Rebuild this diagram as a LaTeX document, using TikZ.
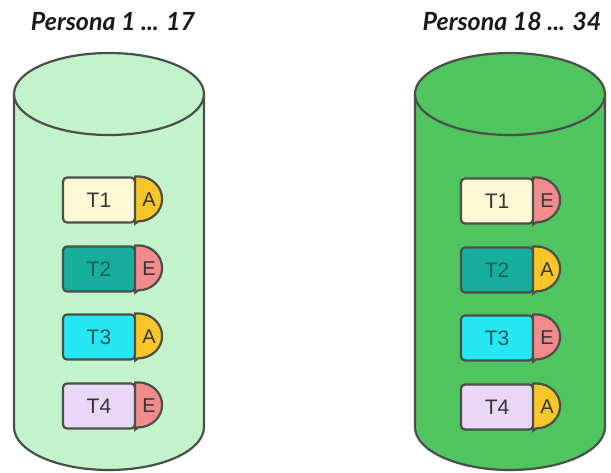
\documentclass[tikz,border=0pt]{standalone}
\usepackage{fontspec}
\setmainfont{Liberation Sans}
\newfontfamily\titlefont{Lato}
\definecolor{edge}{HTML}{4A4F4A}
\definecolor{cylA}{HTML}{C2F3CB}
\definecolor{cylB}{HTML}{50C45E}
\definecolor{fillT1}{HTML}{FFF8D4}
\definecolor{fillT2}{HTML}{17AE9C}
\definecolor{fillT3}{HTML}{26E6F2}
\definecolor{fillT4}{HTML}{EAD6F6}
\definecolor{fillA}{HTML}{F7C62A}
\definecolor{fillE}{HTML}{F28C8C}
\definecolor{ink}{HTML}{353535}
\definecolor{inkTeal}{HTML}{1D5C62}
\tikzset{
  outline/.style={draw=edge, line width=2.2pt},
  tagbox/.style={outline, rounded corners=4pt, minimum width=72pt, minimum height=45pt,
    inner sep=0pt, font=\fontsize{21}{21}\selectfont, text=ink},
  tagletter/.style={inner sep=0pt, font=\fontsize{20}{20}\selectfont, text=ink},
  title/.style={font=\titlefont\bfseries\itshape\fontsize{25}{25}\selectfont, text=black!90},
}
% a cylinder: #1 centre x, #2 fill colour (y axis points down)
\newcommand{\drum}[2]{%
  \fill[#2] (#1-95,94) -- (#1-95,427) arc[start angle=180,end angle=0,x radius=95,y radius=43]
     -- (#1+95,94) -- cycle;
  \draw[outline] (#1-95,94) -- (#1-95,427) arc[start angle=180,end angle=0,x radius=95,y radius=43]
     -- (#1+95,94);
  \draw[outline, fill=#2] (#1,94) ellipse[x radius=95, y radius=41];
}
% a tag: #1 name, #2 position, #3 text, #4 box fill, #5 text colour, #6 letter, #7 letter fill
\newcommand{\tag}[7]{%
  \node[tagbox, fill=#4, text=#5] (#1) at (#2) {#3};
  \draw[outline, fill=#7] ([xshift=-1pt]#1.north east) -- ++(3,0)
     arc[start angle=-90,end angle=90,x radius=24,y radius=22.5] -- ([xshift=-1pt]#1.south east) -- cycle;
  \node[tagletter] (#1-d) at ([xshift=13pt]#1.east) {#6};
}
\begin{document}
\begin{tikzpicture}[x=1pt,y=-1pt]
\useasboundingbox (0,0) rectangle (611,472);
\drum{109}{cylA}
\drum{510}{cylB}
\node[title] (h1) at (113,22) {Persona 1 ... 17};
\node[title] (h2) at (512,21) {Persona 18 ... 34};
\tag{a1}{99,200}{T1}{fillT1}{ink}{A}{fillA}
\tag{a2}{99,269}{T2}{fillT2}{inkTeal}{E}{fillE}
\tag{a3}{99,337}{T3}{fillT3}{inkTeal}{A}{fillA}
\tag{a4}{99,406}{T4}{fillT4}{ink}{E}{fillE}
\tag{b1}{497,201}{T1}{fillT1}{ink}{E}{fillE}
\tag{b2}{497,270}{T2}{fillT2}{inkTeal}{A}{fillA}
\tag{b3}{497,338}{T3}{fillT3}{inkTeal}{E}{fillE}
\tag{b4}{497,407}{T4}{fillT4}{ink}{A}{fillA}
\end{tikzpicture}
\end{document}
